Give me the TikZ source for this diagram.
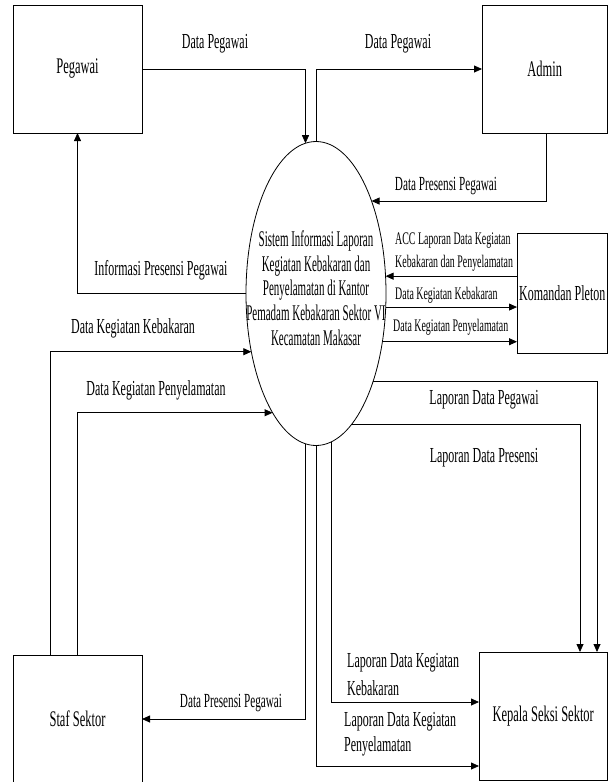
\documentclass[tikz,border=0pt]{standalone}
\usepackage{fontspec}
\setmainfont{Liberation Serif}[FakeStretch=0.56]
\newfontfamily\ellfont{Liberation Serif}[FakeStretch=0.49]
\usetikzlibrary{arrows.meta,shapes.geometric}
\begin{document}
\begin{tikzpicture}[x=1pt,y=-1pt,
  ent/.style={draw,rectangle,line width=0.8pt,inner sep=0pt,outer sep=0pt,font=\fontsize{22.3}{26}\selectfont},
  proc/.style={draw,ellipse,line width=0.8pt,inner sep=0pt,outer sep=0pt,minimum width=140pt,minimum height=304pt},
  flow/.style={draw,line width=0.8pt,-{Triangle[length=8pt,width=7pt]}},
  lab/.style={inner sep=0pt,font=\fontsize{21.4}{25}\selectfont},
  labtwo/.style={inner sep=0pt,font=\fontsize{20}{24}\selectfont},
  slab/.style={inner sep=0pt,anchor=west,font=\fontsize{17.7}{23}\selectfont}
]
\useasboundingbox (0,0) rectangle (608,782);

% entities
\node[ent,minimum width=129pt,minimum height=128pt] (peg) at (77.5,69) {Pegawai};
\node[ent,minimum width=125.5pt,minimum height=128pt] (adm) at (544.75,69) {Admin};
\node[ent,minimum width=90.5pt,minimum height=120pt,font=\fontsize{21.4}{25}\selectfont] (kom) at (562.25,293) {Komandan Pleton};
\node[ent,minimum width=128.5pt,minimum height=128.5pt] (kep) at (543.25,716.25) {Kepala Seksi Sektor};
\node[ent,minimum width=129pt,minimum height=128pt] (staf) at (77.5,719) {Staf Sektor};

% process
\node[proc] (sys) at (316,293.5) {};
\node[align=center,inner sep=0pt,font=\ellfont\fontsize{22.4}{24.7}\selectfont] (systext) at (316,288)
  {Sistem Informasi Laporan\\Kegiatan Kebakaran dan\\Penyelamatan di Kantor\\Pemadam Kebakaran Sektor VI\\Kecamatan Makasar};

% flows
\draw[flow] (peg.east) -| (sys.94.58);
\draw[flow] (sys.north) |- (adm.west);
\draw[flow] ([xshift=2pt]adm.south) |- (sys.59.01);
\draw[flow] (sys.west) -| (peg.south);
\draw[flow] (kom.west |- sys.14.91) -- (sys.14.91);
\draw[flow] (sys.-11.76) -- (kom.west |- sys.-11.76);
\draw[flow] (sys.-36.17) -- (kom.west |- sys.-36.17);
\draw[flow] ([xshift=-27.5pt]staf.north) |- (sys.222.16);
\draw[flow] (staf.north) |- (sys.250.1);
\draw[flow] (sys.-94.19) |- (staf.east);
\draw[flow] (sys.-57.26) -| ([xshift=53.75pt]kep.north);
\draw[flow] (sys.-75.49) -| ([xshift=36.75pt]kep.north);
\draw[flow] (sys.-84.23) |- ([yshift=14.25pt]kep.west);
\draw[flow] (sys.south) |- ([yshift=-49.75pt]kep.west);

% labels
\node[lab] (l1) at (215,44) {Data Pegawai};
\node[lab] (l2) at (398,44) {Data Pegawai};
\node[labtwo] (l3) at (446,186) {Data Presensi Pegawai};
\node[lab] (l4) at (161,270) {Informasi Presensi Pegawai};
\node[slab,align=left] (l5) at (395,252) {ACC Laporan Data Kegiatan\\Kebakaran dan Penyelamatan};
\node[slab] (l6) at (395,295) {Data Kegiatan Kebakaran};
\node[slab] (l7) at (393,327) {Data Kegiatan Penyelamatan};
\node[lab] (l8) at (133,328) {Data Kegiatan Kebakaran};
\node[lab] (l9) at (156,390) {Data Kegiatan Penyelamatan};
\node[labtwo] (l10) at (231,703) {Data Presensi Pegawai};
\node[lab] (l11) at (484,400) {Laporan Data Pegawai};
\node[lab] (l12) at (484,458) {Laporan Data Presensi};
\node[lab,anchor=west,align=left,font=\fontsize{21.4}{28}\selectfont] (l13) at (347,675) {Laporan Data Kegiatan\\Kebakaran};
\node[lab,anchor=west,align=left,font=\fontsize{21.4}{25}\selectfont] (l14) at (344,734) {Laporan Data Kegiatan\\Penyelamatan};
\end{tikzpicture}
\end{document}
